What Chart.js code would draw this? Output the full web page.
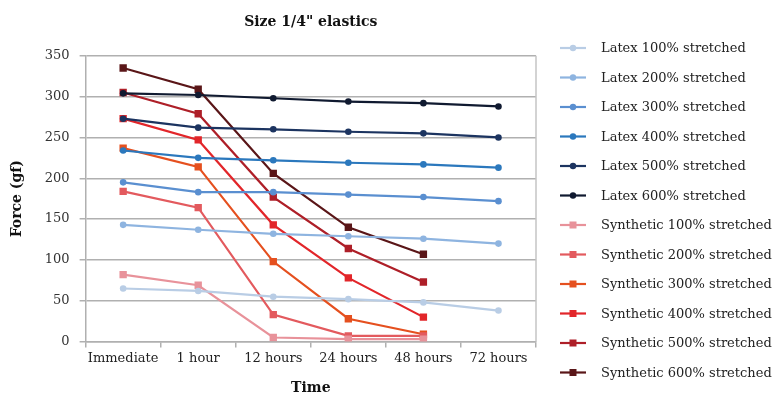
<!DOCTYPE html>
<html>
<head>
<meta charset="utf-8">
<script src="https://cdn.jsdelivr.net/npm/chart.js@4"></script>
<style>
  html, body { margin: 0; padding: 0; background: #fff; }
  #wrap { width: 776px; height: 397px; }
</style>
</head>
<body>
<div id="wrap"><canvas id="forceChart" width="776" height="397"></canvas></div>
<script>
const categories = ["Immediate", "1 hour", "12 hours", "24 hours", "48 hours", "72 hours"];
const yTicks = [0, 50, 100, 150, 200, 250, 300, 350];

const latex100 = [65, 62, 55, 52, 48, 38];
const latex200 = [143, 137, 132, 129, 126, 120];
const latex300 = [195, 183, 183, 180, 177, 172];
const latex400 = [234, 225, 222, 219, 217, 213];
const latex500 = [273, 262, 260, 257, 255, 250];
const latex600 = [304, 302, 298, 294, 292, 288];

const synth100 = [82, 69, 5, 3, 3, null];
const synth200 = [184, 164, 33, 7, 7, null];
const synth300 = [237, 214, 98, 28, 9, null];
const synth400 = [273, 247, 143, 78, 30, null];
const synth500 = [305, 279, 177, 114, 73, null];
const synth600 = [335, 309, 206, 140, 107, null];

const SERIF = "'DejaVu Serif', serif";

function series(label, data, color, isSynth) {
    return {
        label: label,
        data: data,
        borderColor: color,
        backgroundColor: color,
        borderWidth: 2.2,
        pointStyle: isSynth ? "rect" : "circle",
        pointRadius: isSynth ? 5.2 : 3.3,
        pointBorderWidth: 0,
        pointBackgroundColor: color,
        tension: 0,
        spanGaps: false
    };
}

/* plot frame + custom legend on the right */
const framePlugin = {
    id: "frame",
    beforeDatasetsDraw(chart) {
        const { ctx, chartArea: a } = chart;
        ctx.save();
        ctx.strokeStyle = "#c4c4c4";
        ctx.lineWidth = 1.5;
        ctx.beginPath();
        ctx.moveTo(a.right, a.top);
        ctx.lineTo(a.right, a.bottom);
        ctx.stroke();
        ctx.restore();
    },
    afterDraw(chart) {
        const ctx = chart.ctx;
        ctx.save();
        ctx.font = "13px " + SERIF;
        ctx.textBaseline = "middle";
        chart.data.datasets.forEach((ds, i) => {
            const y = 48 + i * 29.5;
            ctx.strokeStyle = ds.borderColor;
            ctx.lineWidth = 2.2;
            ctx.beginPath();
            ctx.moveTo(560, y);
            ctx.lineTo(586, y);
            ctx.stroke();
            ctx.fillStyle = ds.borderColor;
            if (ds.pointStyle === "rect") {
                ctx.fillRect(569.5, y - 3.5, 7, 7);
            } else {
                ctx.beginPath();
                ctx.arc(573, y, 3.2, 0, Math.PI * 2);
                ctx.fill();
            }
            ctx.fillStyle = "#222";
            ctx.fillText(ds.label, 601, y + 1);
        });
        ctx.restore();
    }
};

new Chart(document.getElementById("forceChart"), {
    type: "line",
    data: {
        labels: categories,
        datasets: [
            series("Latex 100% stretched", latex100, "#b9cde5", false),
            series("Latex 200% stretched", latex200, "#8eb4e0", false),
            series("Latex 300% stretched", latex300, "#5a8fd0", false),
            series("Latex 400% stretched", latex400, "#2b78bd", false),
            series("Latex 500% stretched", latex500, "#1c3460", false),
            series("Latex 600% stretched", latex600, "#101a30", false),
            series("Synthetic 100% stretched", synth100, "#e8929a", true),
            series("Synthetic 200% stretched", synth200, "#e35a5e", true),
            series("Synthetic 300% stretched", synth300, "#e5501f", true),
            series("Synthetic 400% stretched", synth400, "#e2262a", true),
            series("Synthetic 500% stretched", synth500, "#ae1f28", true),
            series("Synthetic 600% stretched", synth600, "#5a1618", true)
        ]
    },
    options: {
        responsive: false,
        animation: false,
        layout: { padding: { left: 0, right: 240, top: 0, bottom: 0 } },
        plugins: {
            legend: { display: false },
            tooltip: { enabled: false },
            title: {
                display: true,
                text: "Size 1/4\" elastics",
                fullSize: false,
                color: "#111",
                font: { family: SERIF, size: 14, weight: "bold" },
                padding: { top: 14, bottom: 25 }
            }
        },
        scales: {
            x: {
                offset: true,
                grid: {
                    display: true,
                    drawOnChartArea: false,
                    offset: true,
                    tickLength: 6,
                    color: "#b0b0b0",
                    lineWidth: 1.5
                },
                border: { color: "#b0b0b0", width: 1.5 },
                ticks: {
                    color: "#222",
                    padding: 3,
                    maxRotation: 0,
                    autoSkip: false,
                    font: { family: SERIF, size: 13 }
                },
                title: {
                    display: true,
                    text: "Time",
                    color: "#111",
                    font: { family: SERIF, size: 14, weight: "bold" },
                    padding: { top: 11, bottom: 0 }
                }
            },
            y: {
                min: 0,
                max: 350,
                afterBuildTicks(axis) {
                    axis.ticks = yTicks.map(v => ({ value: v }));
                },
                grid: {
                    color: "#b0b0b0",
                    lineWidth: 1.5,
                    tickLength: 6
                },
                border: { color: "#b0b0b0", width: 1.5 },
                ticks: {
                    color: "#333",
                    padding: 10,
                    font: { family: SERIF, size: 13 }
                },
                title: {
                    display: true,
                    text: "Force (gf)",
                    color: "#111",
                    font: { family: SERIF, size: 14, weight: "bold" },
                    padding: { top: 9, bottom: 9 }
                }
            }
        }
    },
    plugins: [framePlugin]
});
</script>
</body>
</html>
